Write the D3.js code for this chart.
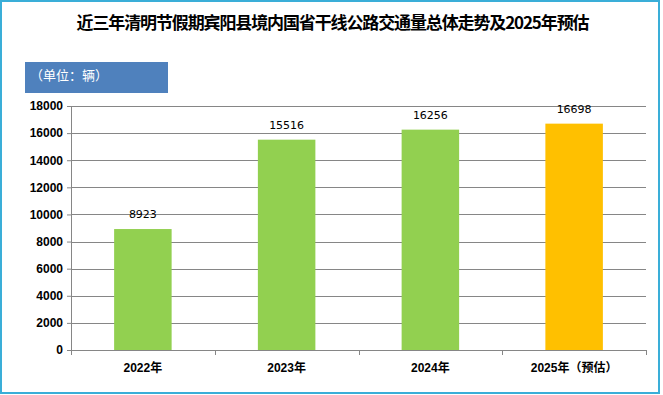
<!DOCTYPE html>
<html>
<head>
<meta charset="utf-8">
<script src="https://cdn.jsdelivr.net/npm/d3@7"></script>
<style>
  body { margin: 0; background: #fff; }
  svg text { font-family: "Liberation Sans", Arial, "Noto Sans CJK SC", sans-serif; }
  .axis text { font-size: 12px; font-weight: bold; fill: #000; }
  .axis line { stroke: #868686; }
  .axis .domain { stroke: #868686; }
  .grid line { stroke: #868686; }
</style>
</head>
<body>
<div id="chart"></div>
<script>
const title = '近三年清明节假期宾阳县境内国省干线公路交通量总体走势及2025年预估';
const unitLabel = '（单位：辆）';
const years = ['2022年', '2023年', '2024年', '2025年（预估）'];
const volumes = [8923, 15516, 16256, 16698];
const estimated = [false, false, false, true];
const yTicks = [0, 2000, 4000, 6000, 8000, 10000, 12000, 14000, 16000, 18000];

const width = 663, height = 395;
const margin = {top: 106, right: 17, bottom: 45, left: 71};
const innerW = width - margin.left - margin.right;
const innerH = height - margin.top - margin.bottom;

const svg = d3.select('#chart').append('svg')
    .attr('width', width)
    .attr('height', height);

svg.append('rect')
    .attr('x', 0).attr('y', 0)
    .attr('width', width).attr('height', height)
    .attr('fill', '#fff');

// outer frame
svg.append('rect')
    .attr('x', 1).attr('y', 1)
    .attr('width', 658).attr('height', 392)
    .attr('fill', 'none')
    .attr('stroke', '#3aaed8')
    .attr('stroke-width', 2);

svg.append('text')
    .attr('x', 333)
    .attr('y', 29)
    .attr('text-anchor', 'middle')
    .attr('textLength', 513)
    .attr('lengthAdjust', 'spacing')
    .style('font-family', '"Noto Sans CJK SC", sans-serif')
    .style('font-size', '17px')
    .style('font-weight', 'bold')
    .text(title);

// unit badge
svg.append('rect')
    .attr('x', 25).attr('y', 62)
    .attr('width', 143).attr('height', 31)
    .attr('fill', '#4f81bd');

svg.append('text')
    .attr('x', 30)
    .attr('y', 80)
    .attr('fill', '#fff')
    .style('font-family', '"Noto Sans CJK SC", sans-serif')
    .style('font-size', '13px')
    .text(unitLabel);

const chart = svg.append('g')
    .attr('transform', `translate(${margin.left},${margin.top})`);

const xScale = d3.scaleBand()
    .domain(years)
    .range([0, innerW])
    .paddingInner(0.6)
    .paddingOuter(0.3);

const xEdges = d3.scaleLinear()
    .domain([0, years.length])
    .range([0, innerW]);

const yScale = d3.scaleLinear()
    .domain([0, 18000])
    .range([innerH, 0]);

// gridlines + y axis
const yAxis = d3.axisLeft(yScale)
    .tickValues(yTicks)
    .tickFormat(d3.format('d'))
    .tickSize(4)
    .tickPadding(4);

chart.append('g')
    .attr('class', 'grid')
    .selectAll('line')
    .data(yTicks)
    .join('line')
    .attr('x1', 0)
    .attr('x2', innerW)
    .attr('y1', d => Math.round(yScale(d)) + 0.5)
    .attr('y2', d => Math.round(yScale(d)) + 0.5);

chart.append('g')
    .attr('class', 'axis y-axis')
    .call(yAxis);

// bars
chart.selectAll('.bar')
    .data(volumes)
    .join('rect')
    .attr('class', 'bar')
    .attr('x', (d, i) => xScale(years[i]))
    .attr('width', xScale.bandwidth())
    .attr('y', d => yScale(d))
    .attr('height', d => innerH - yScale(d))
    .attr('fill', (d, i) => estimated[i] ? '#ffc000' : '#92d050');

chart.selectAll('.value-label')
    .data(volumes)
    .join('text')
    .attr('class', 'value-label')
    .attr('x', (d, i) => xScale(years[i]) + xScale.bandwidth() / 2)
    .attr('y', d => yScale(d) - 11)
    .attr('text-anchor', 'middle')
    .style('font-family', 'Verdana, "DejaVu Sans", sans-serif')
    .style('font-size', '11px')
    .attr('fill', '#000')
    .text(d => d);

// x axis: baseline, ticks between categories, labels
const xAxisG = chart.append('g')
    .attr('class', 'axis x-axis')
    .attr('transform', `translate(0,${innerH})`);

xAxisG.append('line')
    .attr('x1', 0).attr('x2', innerW)
    .attr('y1', 0.5).attr('y2', 0.5);

xAxisG.selectAll('.xtick')
    .data(d3.range(years.length + 1))
    .join('line')
    .attr('class', 'xtick')
    .attr('x1', d => Math.round(xEdges(d)) + 0.5)
    .attr('x2', d => Math.round(xEdges(d)) + 0.5)
    .attr('y1', 0)
    .attr('y2', 5);

xAxisG.selectAll('.xlabel')
    .data(years)
    .join('text')
    .attr('class', 'xlabel')
    .attr('x', d => xScale(d) + xScale.bandwidth() / 2)
    .attr('y', 22)
    .attr('text-anchor', 'middle')
    .text(d => d);
</script>
</body>
</html>
